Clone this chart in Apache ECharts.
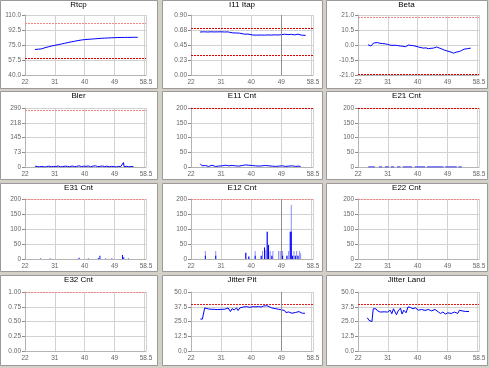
<!DOCTYPE html>
<html><head><meta charset="utf-8">
<script src="https://cdn.jsdelivr.net/npm/echarts@6/dist/echarts.min.js"></script>
<style>html,body{margin:0;padding:0;background:#d4d0c8;}#c{width:490px;height:368px;}</style>
</head><body><div id="c"></div>
<script>
// ---------- data ----------
const titles = ['Rtcp','I11 Itap','Beta','Bler','E11 Cnt','E21 Cnt','E31 Cnt','E12 Cnt','E22 Cnt','E32 Cnt','Jitter Pit','Jitter Land'];
const xTickLabels = ['22','31','40','49','58.5'];
const xMin = 22, xMax = 58.5, xStep = 9;
const cursorX = 49;

const rtcpTicks = ['40.0','57.5','75.0','92.5','110.0'];
const itapTicks = ['0.00','0.23','0.45','0.68','0.90'];
const betaTicks = ['-21.0','-10.5','0.0','10.5','21.0'];
const blerTicks = ['0','73','145','218','290'];
const cntTicks = ['0','50','100','150','200'];
const e32Ticks = ['0.00','0.25','0.50','0.75','1.00'];
const jitterTicks = ['0.0','12.5','25.0','37.5','50.0'];

const rtcpLimits = [100, 59];
const itapLimits = [0.7, 0.3];
const betaLimits = [19.6, -20.7];
const blerLimits = [280];
const cntLimits = [200];
const e32Limits = [1.0];
const jitterLimits = [40];

const rtcpData = [[25,69.8],[25.5,69.9],[26,70.1],[26.5,70.2],[27,70.5],[27.5,71.3],[28,71.8],[29,72.8],[30,73.8],[31,74.6],[32,75.4],[33,76.2],[34,77.0],[35,77.9],[36,78.7],[37,79.4],[38,80.2],[39,80.8],[40,81.3],[41,81.6],[42,81.9],[43,82.2],[44,82.5],[45,82.8],[46,83.0],[47,83.2],[48,83.4],[49,83.6],[50,83.7],[51,83.8],[52,83.8],[53,83.9],[54,83.9],[55,84.0],[56,84.0]];
const itapData = [[24.7,0.645],[26,0.648],[27,0.645],[28,0.648],[29,0.646],[30,0.647],[31,0.648],[32,0.645],[33,0.647],[33.6,0.640],[34.5,0.632],[35.5,0.630],[36.5,0.628],[37,0.615],[38,0.612],[39,0.614],[39.5,0.606],[40.5,0.600],[41.5,0.598],[42,0.596],[43,0.600],[44,0.598],[45,0.601],[46,0.599],[47,0.602],[48,0.600],[49,0.604],[50,0.612],[51,0.606],[52,0.610],[53,0.602],[54,0.612],[55,0.598],[56.3,0.594]];
const betaData = [[25,0.2],[25.5,0.5],[25.9,-0.7],[26.3,0.3],[26.7,1.4],[27.3,1.8],[27.9,1.7],[28.6,1.2],[29.4,1.0],[30.2,0.8],[30.9,0.5],[31.5,0.9],[31.9,-0.2],[32.4,0.4],[33.3,-0.2],[34.0,-0.4],[34.8,-0.7],[35.5,-0.9],[36.3,-1.2],[36.8,-0.6],[37.3,0.0],[38.0,-0.3],[38.8,-0.5],[39.5,-0.9],[40.2,-1.4],[41.0,-1.8],[41.7,-2.2],[42.5,-2.0],[43.2,-2.6],[44.0,-2.3],[44.7,-2.2],[45.2,-1.7],[45.7,-1.4],[46.4,-2.0],[47.1,-2.6],[47.6,-3.1],[48.1,-3.6],[48.6,-3.9],[49.1,-4.3],[49.6,-3.8],[50.1,-5.0],[50.5,-4.4],[50.8,-5.7],[51.2,-4.8],[51.6,-5.0],[52.1,-6.0],[52.5,-4.6],[52.8,-4.3],[53.2,-3.9],[53.6,-3.3],[54.0,-2.9],[54.5,-2.4],[55.0,-2.6],[55.5,-2.2],[56.0,-2.2]];
const blerData = [[25,4],[25.7,2],[26.4,1],[27.1,3],[27.8,0],[28.5,2],[29.2,4],[29.9,1],[30.6,3],[31.3,2],[32,5],[32.7,1],[33.4,2],[34.1,4],[34.8,3],[35.5,1],[36.2,5],[36.9,2],[37.6,3],[38.3,6],[39,2],[39.7,4],[40.4,3],[41.1,5],[41.8,1],[42.5,4],[43.2,6],[43.9,2],[44.6,3],[45.3,5],[46,2],[46.7,4],[47.4,1],[48.1,3],[48.8,2],[49.5,0],[50.2,3],[50.9,2],[51.5,1],[51.7,22],[51.9,2],[52.6,3],[53.3,1],[54,2],[54.7,3]];
const e11Data = [[24.8,11],[25.3,4],[25.8,2],[26.3,5],[26.8,3],[27.3,2],[27.8,4],[28.3,6],[28.8,3],[29.3,2],[29.8,5],[30.3,3],[30.8,2],[31.3,4],[31.8,3],[32.3,6],[32.8,2],[33.3,4],[33.8,3],[34.3,5],[34.8,2],[35.3,4],[35.8,6],[36.3,3],[36.8,2],[37.3,5],[37.8,3],[38.3,7],[38.8,4],[39.3,6],[39.8,3],[40.3,5],[40.8,2],[41.3,4],[41.8,6],[42.3,3],[42.8,5],[43.3,4],[43.8,2],[44.3,5],[44.8,3],[45.3,4],[45.8,2],[46.3,3],[46.8,5],[47.3,2],[47.8,4],[48.3,3],[48.8,2],[49.3,4],[49.8,3],[50.3,2],[50.8,5],[51.3,3],[51.8,2],[52.3,4],[52.8,3],[53.3,2],[53.8,4],[54.3,3],[54.8,2]];
const e21Data = [[25.1,0],[27.1,0],[27.5,null],[28.3,0],[29.3,0],[29.7,null],[30.1,0],[31.3,0],[31.6,null],[31.9,0],[32.9,0],[33.3,null],[33.8,0],[34.8,0],[35.1,null],[35.5,0],[38.3,0],[38.7,null],[39.1,0],[42.3,0],[42.5,null],[42.8,0],[47.8,0],[48.0,null],[48.3,0],[51.8,0],[52.0,null],[52.3,0],[52.5,1],[52.7,0],[53.3,0]];
const e31Data = [[26.7,2],[29.6,2],[38.3,4],[41.1,2],[44.1,3],[44.6,11],[46.3,2],[48.2,2],[51.4,13],[51.8,6],[53.2,2]];
const e12Data = [[26.3,27],[29.4,27],[38.4,21],[39.3,8],[41.2,27],[43.0,11],[43.4,27],[44.0,38],[44.4,30],[44.8,91],[45.2,47],[45.7,27],[46.2,11],[46.5,27],[48.2,27],[48.7,27],[49.4,27],[50.7,11],[51.2,27],[51.7,91],[52.0,180],[52.4,11],[52.8,27],[53.2,11],[53.6,27],[54.0,11],[54.5,27],[54.8,19]];
const e12Core = [[26.3,11],[29.4,11],[38.4,21],[39.3,8],[41.2,11],[43.0,11],[44.0,38],[44.8,91],[45.2,47],[46.2,11],[49.4,11],[50.7,11],[51.7,91],[52.0,91],[52.4,11],[53.2,11],[54.0,11]];
const e22Data = [];
const e32Data = [];
const jitterPitData = [[24.8,27.1],[25.0,28.2],[25.4,27.0],[25.5,26.5],[25.9,25.4],[26.0,25.4],[26.1,36.5],[26.5,35.9],[27.3,35.6],[28.0,35.4],[29.0,35.3],[30.0,35.1],[31.0,35.3],[32.1,35.4],[33.1,36.5],[33.6,35.8],[33.8,33.4],[34.0,33.4],[34.3,35.9],[34.9,34.8],[35.6,36.5],[36.1,34.3],[36.6,36.5],[37.1,36.0],[37.6,37.3],[38.6,37.6],[39.6,37.0],[40.6,37.6],[41.4,37.4],[42.2,37.6],[43.0,37.3],[43.7,38.1],[44.7,38.4],[45.2,37.0],[46.2,36.5],[47.2,35.9],[48.2,35.4],[49.2,34.8],[49.6,35.2],[50.0,34.3],[50.4,32.6],[50.8,33.6],[51.2,33.1],[51.7,32.4],[52.2,32.0],[52.7,33.2],[53.2,32.6],[53.7,32.4],[54.3,33.4],[54.8,32.2],[55.3,32.0],[56.1,32.0]];
const jitterLandData = [[24.8,28.2],[25.3,26.0],[25.7,24.9],[26.2,24.9],[26.5,24.9],[26.6,35.8],[27.4,35.8],[27.9,34.0],[28.7,33.0],[29.1,34.0],[29.9,33.2],[30.9,33.0],[31.7,34.6],[32.2,31.6],[32.7,35.8],[33.1,34.4],[33.6,30.7],[34.1,34.0],[34.8,36.3],[35.3,31.3],[35.8,34.6],[36.5,32.4],[37.1,37.4],[37.8,36.9],[38.6,35.8],[39.3,36.6],[40.2,34.6],[41.2,35.2],[42.2,34.4],[43.2,35.2],[44.2,34.0],[45.2,35.2],[46.2,33.2],[46.9,31.8],[47.6,33.0],[48.4,31.3],[49.1,32.4],[50.1,31.8],[51.1,33.0],[52.1,31.8],[52.6,34.6],[53.4,34.0],[54.5,33.5],[55.5,33.5]];

// ---------- layout / style ----------
const PINK = '#f08888', DRED = '#dd0000', RED = '#e01818';
const panels = [
  {ticks: rtcpTicks, min:40, max:110, step:17.5, data: rtcpData, limits: rtcpLimits, lc:[PINK, DRED]},
  {ticks: itapTicks, min:0, max:0.9, step:0.225, data: itapData, limits: itapLimits, lc:[DRED, DRED], cursor:true},
  {ticks: betaTicks, min:-21, max:21, step:10.5, data: betaData, limits: betaLimits, lc:[PINK, DRED]},
  {ticks: blerTicks, min:0, max:290, step:72.5, data: blerData, limits: blerLimits, lc:[PINK]},
  {ticks: cntTicks, min:0, max:200, step:50, data: e11Data, limits: cntLimits, lc:[DRED]},
  {ticks: cntTicks, min:0, max:200, step:50, data: e21Data, limits: cntLimits, lc:[DRED]},
  {ticks: cntTicks, min:0, max:200, step:50, data: e31Data, limits: cntLimits, lc:[PINK], bar:true},
  {ticks: cntTicks, min:0, max:200, step:50, data: e12Data, core: e12Core, limits: cntLimits, lc:[PINK], bar:true, cursor:true},
  {ticks: cntTicks, min:0, max:200, step:50, data: e22Data, limits: cntLimits, lc:[PINK]},
  {ticks: e32Ticks, min:0, max:1, step:0.25, data: e32Data, limits: e32Limits, lc:[PINK]},
  {ticks: jitterTicks, min:0, max:50, step:12.5, data: jitterPitData, limits: jitterLimits, lc:[RED], cursor:true},
  {ticks: jitterTicks, min:0, max:50, step:12.5, data: jitterLandData, limits: jitterLimits, lc:[RED]}
];

const colX = [0, 162, 326], colW = [157, 160, 161];
const rowY = [0, 91, 183, 275], rowH = [88, 88, 88, 90];
const gLeft = [25, 191, 358], gRight = [146, 313, 479];
const gTop = [15, 108, 199, 292], gBot = [75, 167, 259, 351];
const FONT = 'Liberation Sans, Arial, sans-serif';

const grids = [], xAxes = [], yAxes = [], series = [], graphics = [];
panels.forEach((p, i) => {
  const c = i % 3, r = Math.floor(i / 3);
  graphics.push({type:'rect', z:-10, silent:true,
    shape:{x: colX[c] + 0.5, y: rowY[r] + 0.5, width: colW[c], height: rowH[r]},
    style:{fill:'#ffffff', stroke:'#9a9a9a', lineWidth:1}});
  graphics.push({type:'text', silent:true, x: colX[c] + colW[c] / 2, y: rowY[r] + 1,
    style:{text: titles[i], textAlign:'center', textVerticalAlign:'top', fontSize:8, fontFamily: FONT, fill:'#000'}});
  grids.push({left: gLeft[c], top: gTop[r], width: gRight[c] - gLeft[c], height: gBot[r] - gTop[r], containLabel:false});
  xAxes.push({type:'value', gridIndex:i, min:0, max: xMax - xMin, interval: xStep,
    axisLine:{show:true, onZero:false, lineStyle:{color:'#b4b4b4'}},
    axisTick:{show:false},
    splitLine:{show:true, lineStyle:{color:'#d2d2d2', width:1}},
    axisLabel:{fontSize:6.5, fontFamily: FONT, color:'#666', margin:4, showMaxLabel:true, showMinLabel:true,
      formatter: v => xTickLabels[Math.round(v / xStep)]}});
  const ticks = p.ticks, step = p.step;
  yAxes.push({type:'value', gridIndex:i, min:0, max: p.max - p.min, interval: step,
    axisLine:{show:true, lineStyle:{color:'#b4b4b4'}},
    axisTick:{show:true, length:3, lineStyle:{color:'#8c8c8c'}},
    splitLine:{show:true, lineStyle:{color:'#d2d2d2', width:1}},
    axisLabel:{fontSize:6.5, fontFamily: FONT, color:'#666', margin:4,
      formatter: v => ticks[Math.round(v / step)]}});
  const conv = d => d.map(([x, y]) => [x - xMin, y == null ? null : y - p.min]);
  const mlData = p.limits.map((l, k) => ({yAxis: l - p.min, lineStyle:{color: p.lc[k], type:[2,1], width:1}}));
  if (p.cursor) mlData.push({xAxis: cursorX - xMin, lineStyle:{color:'#8f8f8f', type:'solid', width:1}});
  const markLine = {silent:true, symbol:'none', label:{show:false}, animation:false, data: mlData};
  if (p.bar) {
    series.push({type:'bar', xAxisIndex:i, yAxisIndex:i, data: conv(p.data), barWidth:1, barGap:'-100%',
      itemStyle:{color: p.core ? '#8c8cff' : '#0000ff'}, animation:false, markLine});
    if (p.core) series.push({type:'bar', xAxisIndex:i, yAxisIndex:i, data: conv(p.core), barWidth:1, barGap:'-100%',
      itemStyle:{color:'#0000ff'}, animation:false});
  } else {
    series.push({type:'line', xAxisIndex:i, yAxisIndex:i, data: conv(p.data), showSymbol:false, symbol:'none',
      connectNulls:false, lineStyle:{color:'#0000ff', width:1}, animation:false, markLine});
  }
});

const chart = echarts.init(document.getElementById('c'), null, {renderer:'canvas'});
chart.setOption({animation:false, backgroundColor:'#d4d0c8', grid: grids, xAxis: xAxes, yAxis: yAxes, series, graphic: graphics});
</script>
</body></html>
